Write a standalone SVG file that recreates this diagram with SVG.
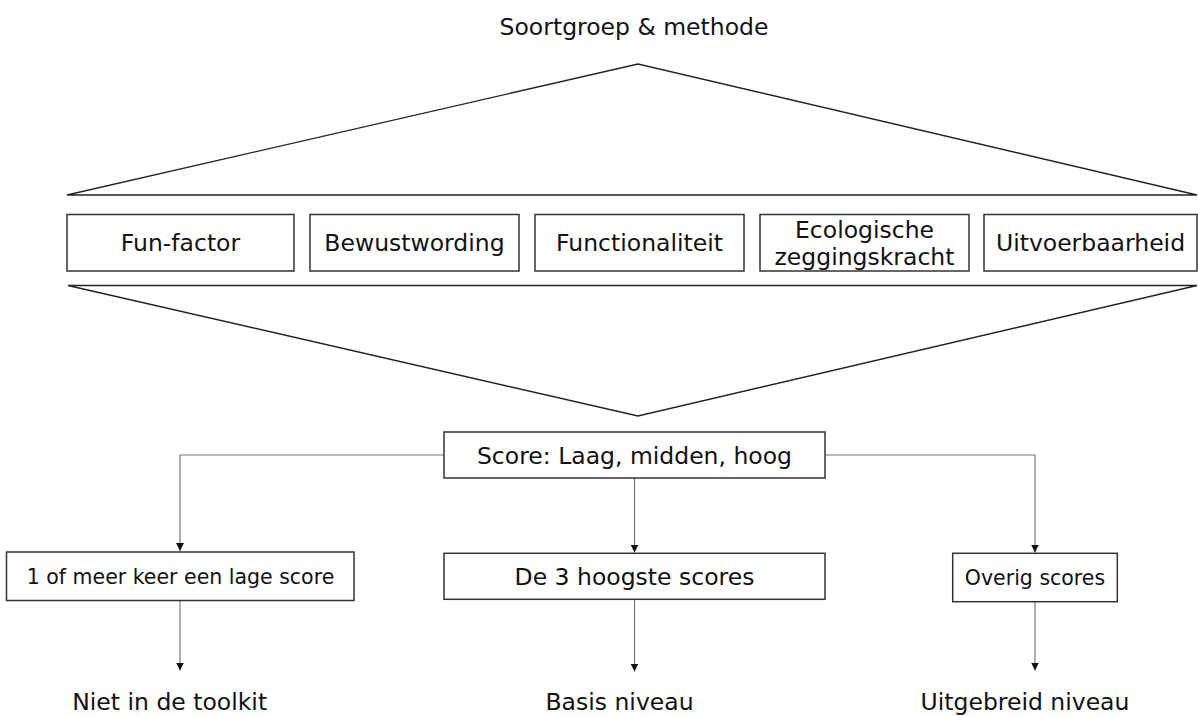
<svg xmlns="http://www.w3.org/2000/svg" width="1198" height="716" viewBox="0 0 1198 716">
<defs>
<style>
text{font-family:"DejaVu Sans","Verdana",sans-serif;fill:#111;text-anchor:middle}
.t{font-size:23.5px}
.s{font-size:20.5px}
.box{fill:#fff;stroke:#333;stroke-width:1.5}
.tri{fill:none;stroke:#222;stroke-width:1.4}
.con{fill:none;stroke:#777;stroke-width:1.2}
</style>
<marker id="arr" viewBox="0 0 8 8" refX="8" refY="4" markerWidth="8" markerHeight="8" markerUnits="userSpaceOnUse" orient="auto">
<path d="M0,0 L8,4 L0,8 z" fill="#111"/>
</marker>
</defs>
<rect width="1198" height="716" fill="#fff"/>
<g id="title"><text class="t" x="634" y="34.5">Soortgroep &amp; methode</text></g>
<g id="triangles">
<path class="tri" d="M67,195 L638,64 L1197,195 Z"/>
<path class="tri" d="M68,285.5 L1197,285.5 L638,416 Z"/>
</g>
<g id="n-fun"><rect class="box" x="67" y="214.5" width="227" height="56.5"/><text class="t" x="180.5" y="251.3">Fun-factor</text></g>
<g id="n-bew"><rect class="box" x="310" y="214.5" width="209" height="56.5"/><text class="t" x="414.5" y="251.3">Bewustwording</text></g>
<g id="n-func"><rect class="box" x="535" y="214.5" width="209" height="56.5"/><text class="t" x="639.5" y="251.3">Functionaliteit</text></g>
<g id="n-eco"><rect class="box" x="760" y="214.5" width="209" height="56.5"/><text class="t" x="864.5" y="238">Ecologische</text><text class="t" x="864.5" y="265">zeggingskracht</text></g>
<g id="n-uit"><rect class="box" x="984" y="214.5" width="213" height="56.5"/><text class="t" x="1090.5" y="251.3">Uitvoerbaarheid</text></g>
<g id="connectors">
<path class="con" d="M444,455 H180 V551" marker-end="url(#arr)"/>
<path class="con" d="M634.5,478 V552.5" marker-end="url(#arr)"/>
<path class="con" d="M825,455 H1035 V552.5" marker-end="url(#arr)"/>
<path class="con" d="M180,600.5 V670.5" marker-end="url(#arr)"/>
<path class="con" d="M634.5,599.5 V671.5" marker-end="url(#arr)"/>
<path class="con" d="M1035,601.5 V670.5" marker-end="url(#arr)"/>
</g>
<g id="n-score"><rect class="box" x="444" y="432" width="381" height="46"/><text class="t" x="634.5" y="463.5">Score: Laag, midden, hoog</text></g>
<g id="n-laag"><rect class="box" x="6.5" y="552" width="347.5" height="48.5"/><text class="s" x="180.5" y="583.5">1 of meer keer een lage score</text></g>
<g id="n-hoog"><rect class="box" x="444" y="553.3" width="381" height="46"/><text class="t" x="634.5" y="584.7">De 3 hoogste scores</text></g>
<g id="n-overig"><rect class="box" x="952.7" y="553.3" width="164.6" height="48.4"/><text class="s" x="1035" y="584.8">Overig scores</text></g>
<g id="n-niet"><text class="t" x="169.7" y="709.5">Niet in de toolkit</text></g>
<g id="n-basis"><text class="t" x="619.5" y="709.5">Basis niveau</text></g>
<g id="n-uitgebreid"><text class="t" x="1025" y="709.5">Uitgebreid niveau</text></g>
</svg>
